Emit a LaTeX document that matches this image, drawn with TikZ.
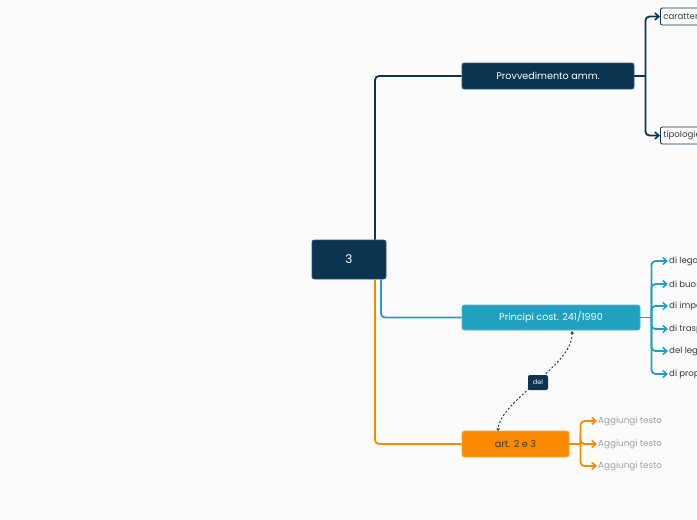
\documentclass[tikz,border=0pt]{standalone}
\usepackage{fontspec}
\setmainfont{Poppins}
\usetikzlibrary{arrows.meta,calc}
\definecolor{navy}{HTML}{0A3450}
\definecolor{navyb}{HTML}{2A5670}
\definecolor{teal}{HTML}{22A0C2}
\definecolor{tealb}{HTML}{4DB6D2}
\definecolor{orng}{HTML}{F98A00}
\definecolor{orngb}{HTML}{FFA53A}
\definecolor{bg}{HTML}{FBFBFB}
\definecolor{txtd}{HTML}{3A3A3A}
\definecolor{txtg}{HTML}{A0A0A0}
\begin{document}
\begin{tikzpicture}[x=1pt,y=-1pt,
  mainbox/.style={rounded corners=2.5pt, line width=0.9pt, inner sep=0pt, font=\fontsize{9.6}{11}\selectfont},
  link/.style={line width=1.8pt, rounded corners=4pt},
  tip/.style={-{Straight Barb[length=4pt,width=7pt,line width=1.6pt]}},
  leaf/.style={anchor=west, inner sep=1pt, font=\fontsize{8.6}{10}\selectfont, text=txtd},
  leafbox/.style={leaf, draw=navy, fill=white, line width=0.8pt, rounded corners=2pt, minimum height=17pt, inner xsep=3pt},
  addt/.style={anchor=west, inner sep=1pt, font=\fontsize{8.8}{10}\selectfont, text=txtg}]
\path[use as bounding box, fill=bg] (0,0) rectangle (697,520);
\clip (0,0) rectangle (697,520);
% main nodes
\node[mainbox, fill=navy, draw=navyb, text=white, minimum width=74pt, minimum height=39pt, font=\fontsize{12}{14}\selectfont] (root) at (349,259.5) {3};
\node[mainbox, fill=navy, draw=navyb, text=white, minimum width=172pt, minimum height=26pt] (prov) at (548,76) {Provvedimento amm.};
\node[mainbox, fill=teal, draw=tealb, text=white, minimum width=178pt, minimum height=25pt] (princ) at (551,317.5) {Principi cost. 241/1990};
\node[mainbox, fill=orng, draw=orngb, text=txtd, minimum width=107pt, minimum height=26pt] (art) at (515.5,444) {art. 2 e 3};
% main links
\draw[link, navy] ([xshift=26pt]root.north) |- (prov.west);
\draw[link, teal] ([xshift=32pt]root.south) |- (princ.west);
\draw[link, orng] ([xshift=26pt]root.south) |- (art.west);
% provvedimento children
\node[leafbox] (car) at (660,16.5) {caratteristiche};
\node[leafbox] (tip) at (660,135.5) {tipologie};
\draw[link, navy] (prov.east) -- ++(11,0) coordinate (pb);
\draw[link, navy, tip] (pb) |- (car.west);
\draw[link, navy, tip] (pb) |- (tip.west);
% principi children
\node[leaf] (p1) at (668,261) {di legalità};
\node[leaf] (p2) at (668,284) {di buon andamento};
\node[leaf] (p3) at (668,306) {di imparzialità};
\node[leaf] (p4) at (668,329) {di trasparenza};
\node[leaf] (p5) at (668,351) {del legittimo affidamento};
\node[leaf] (p6) at (668,374) {di proporzionalità};
\draw[link, teal] (princ.east) -- ++(11,0) coordinate (qb);
\foreach \n in {p1,p2,p3,p4,p5,p6}{\draw[link, teal, tip] (qb) |- (\n.west);}
% art children
\node[addt] (a1) at (597,421) {Aggiungi testo};
\node[addt] (a2) at (597,444) {Aggiungi testo};
\node[addt] (a3) at (597,466) {Aggiungi testo};
\draw[link, orng] (art.east) -- ++(11,0) coordinate (ab);
\foreach \n in {a1,a2,a3}{\draw[link, orng, tip] (ab) |- (\n.west);}
% relation
\coordinate (rs) at (572,331);
\coordinate (re) at (498,431);
\draw[navy, line width=0.9pt, dash pattern=on 2pt off 2pt, {Stealth[length=3pt,width=3.5pt]}-{Stealth[length=3pt,width=3.5pt]}] (rs) .. controls (574,365) and (500,400) .. (re);
\node[fill=navy, text=white, rounded corners=2pt, minimum width=20pt, minimum height=15pt, inner sep=0pt, font=\fontsize{6.5}{7}\selectfont] (del) at (538,382.5) {del};
\end{tikzpicture}
\end{document}
